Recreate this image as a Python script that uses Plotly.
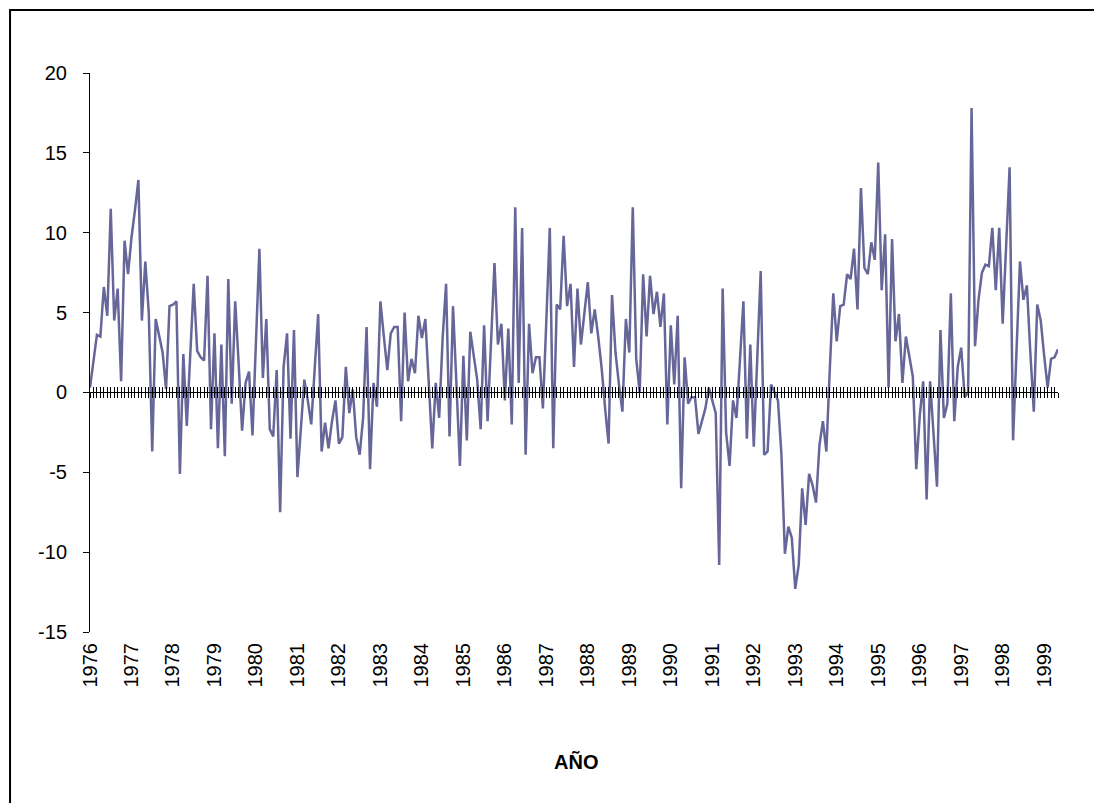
import plotly.graph_objects as go

# Monthly series, Jan 1976 onwards
values = [
    0.3, 2.0, 3.6, 3.5, 6.6, 4.8, 11.5, 4.5, 6.5, 0.7, 9.5, 7.4,
    9.7, 11.4, 13.3, 4.5, 8.2, 5.0, -3.7, 4.6, 3.5, 2.5, 0.2, 5.4,
    5.5, 5.7, -5.1, 2.4, -2.1, 2.5, 6.8, 2.6, 2.2, 2.0, 7.3, -2.3,
    3.7, -3.5, 3.0, -4.0, 7.1, -0.7, 5.7, 1.8, -2.4, 0.6, 1.3, -2.7,
    3.0, 9.0, 0.9, 4.6, -2.3, -2.75, 1.4, -7.5, 1.6, 3.7, -2.9, 3.9,
    -5.3, -2.0, 0.8, -0.5, -2.0, 1.5, 4.9, -3.7, -1.9, -3.5, -1.8, -0.5,
    -3.2, -2.8, 1.6, -1.3, 0.2, -2.8, -3.9, -1.6, 4.1, -4.8, 0.6, -0.9,
    5.7, 3.5, 1.4, 3.7, 4.1, 4.1, -1.8, 5.0, 0.7, 2.1, 1.2, 4.8,
    3.4, 4.6, 0.5, -3.5, 0.6, -1.6, 3.4, 6.8, -2.75, 5.4, 0.5, -4.6,
    2.3, -3.0, 3.8, 2.3, 0.8, -2.3, 4.2, -1.8, 3.2, 8.1, 3.0, 4.3,
    -0.5, 4.0, -2.0, 11.6, 0.6, 10.3, -3.9, 4.3, 1.2, 2.2, 2.2, -1.0,
    4.5, 10.3, -3.5, 5.5, 5.2, 9.8, 5.4, 6.8, 1.6, 6.5, 3.0, 4.8,
    6.9, 3.7, 5.2, 3.5, 1.5, -1.0, -3.2, 6.1, 2.5, 0.5, -1.2, 4.6,
    2.5, 11.6, 2.1, 0.0, 7.4, 3.5, 7.3, 4.9, 6.3, 4.1, 6.2, -2.0,
    4.2, 0.5, 4.8, -6.0, 2.2, -0.7, -0.3, -0.3, -2.6, -1.8, -1.0, 0.3,
    -0.5, -1.3, -10.8, 6.5, -2.5, -4.6, -0.5, -1.6, 2.0, 5.7, -2.9, 3.0,
    -3.4, 2.0, 7.6, -3.9, -3.7, 0.5, 0.0, -0.5, -3.9, -10.1, -8.4, -9.1,
    -12.3, -10.8, -6.0, -8.3, -5.1, -5.8, -6.9, -3.3, -1.8, -3.7, 1.5, 6.2,
    3.2, 5.4, 5.5, 7.4, 7.1, 9.0, 5.2, 12.8, 7.8, 7.4, 9.4, 8.3,
    14.4, 6.4, 9.9, 0.3, 9.6, 3.2, 4.9, 0.6, 3.5, 2.2, 1.0, -4.8,
    -1.5, 0.7, -6.7, 0.7, -2.5, -5.9, 3.9, -1.6, -0.7, 6.2, -1.8, 1.6,
    2.8, -0.3, 0.0, 17.8, 2.9, 5.8, 7.5, 8.0, 7.9, 10.3, 6.4, 10.3,
    4.3, 9.0, 14.1, -3.0, 3.0, 8.2, 5.8, 6.7, 2.5, -1.2, 5.5, 4.5,
    2.3, 0.3, 2.1, 2.2, 2.7,
]
years = [str(y) for y in range(1976, 2000)]
y_ticks = [-15, -10, -5, 0, 5, 10, 15, 20]
y_tick_text = ["-15", "-10", "-5", "0", "5", "10", "15", "20"]
x_title = "AÑO"

months = list(range(len(values)))
year_pos = [12 * k for k in range(len(years))]
y_min, y_max = -15, 20
zero_pos = (0 - y_min) / (y_max - y_min)
x_range = [0, len(values) - 1]

FONT = "Liberation Sans, Arial, sans-serif"

fig = go.Figure()
fig.add_trace(go.Scatter(x=months, y=values, mode="lines",
                         line=dict(color="#666699", width=2.5),
                         xaxis="x", yaxis="y", showlegend=False))
for ax in ("x2", "x3"):
    fig.add_trace(go.Scatter(x=months, y=values, mode="lines",
                             line=dict(width=0), opacity=0, hoverinfo="skip",
                             xaxis=ax, yaxis="y", showlegend=False))

common_zero = dict(overlaying="x", anchor="free", position=zero_pos, range=x_range,
                   tickvals=months, showticklabels=False, ticklen=5, tickwidth=1,
                   tickcolor="black", showline=True, linecolor="black", linewidth=1,
                   showgrid=False, zeroline=False)

fig.update_layout(
    width=1094, height=803,
    margin=dict(l=90, r=36, t=73, b=171),
    paper_bgcolor="white", plot_bgcolor="white",
    font=dict(family=FONT, color="black"),
    xaxis=dict(domain=[0, 1], range=x_range, tickvals=year_pos, ticktext=years,
               tickangle=-90, ticks="", showline=False, showgrid=False, zeroline=False,
               tickfont=dict(size=20, family=FONT), ticklabelstandoff=6, anchor="y"),
    xaxis2=dict(ticks="outside", **common_zero),
    xaxis3=dict(ticks="inside", **common_zero),
    yaxis=dict(domain=[0, 1], range=[y_min, y_max], tickvals=y_ticks, ticktext=y_tick_text,
               ticks="outside", ticklen=6, tickcolor="black", showline=True,
               linecolor="black", linewidth=1, showgrid=False, zeroline=False,
               tickfont=dict(size=20, family=FONT), ticklabelstandoff=12),
    annotations=[dict(text="<b>" + x_title + "</b>", xref="paper", yref="paper",
                      x=0.502, y=-0.2326, showarrow=False, xanchor="center",
                      yanchor="middle", font=dict(size=20, family=FONT))],
    shapes=[dict(type="rect", xref="paper", yref="paper",
                 x0=-0.0826, x1=1.2, y0=-0.5, y1=1.1127,
                 line=dict(color="black", width=2))],
)

fig.write_html("out.html", config={"displayModeBar": False},
               post_script="document.body.style.margin='0';document.body.style.overflow='hidden';")
